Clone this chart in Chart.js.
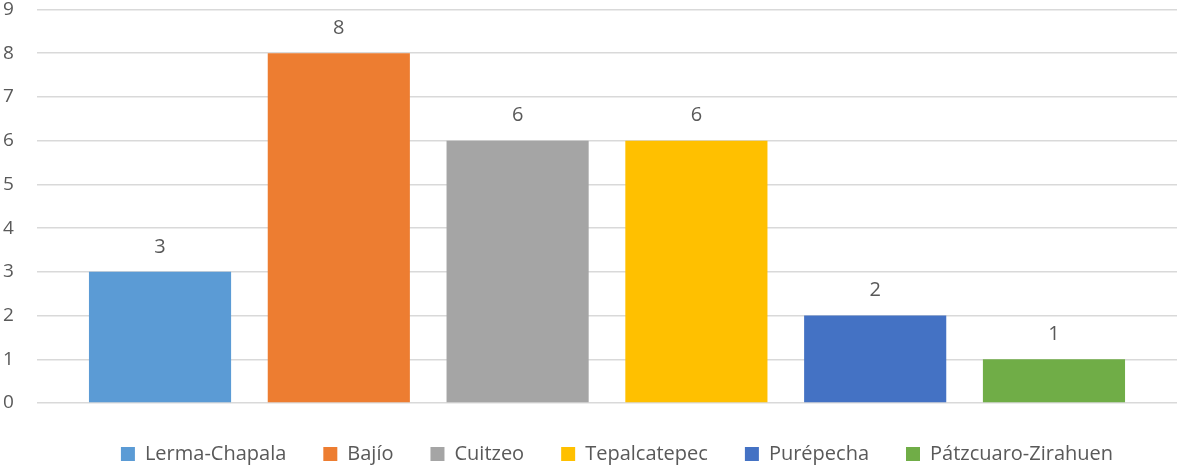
<!DOCTYPE html>
<html>
<head>
<meta charset="utf-8">
<script src="https://cdn.jsdelivr.net/npm/chart.js@4.4.0/dist/chart.umd.min.js"></script>
<style>
  html, body { margin: 0; padding: 0; background: #fff; }
  #wrap { width: 1180px; height: 467px; }
</style>
</head>
<body>
<div id="wrap"><canvas id="chart"></canvas></div>
<script>
// data
const regions = ["Lerma-Chapala", "Bajío", "Cuitzeo", "Tepalcatepec", "Purépecha", "Pátzcuaro-Zirahuen"];
const counts = [3, 8, 6, 6, 2, 1];
const colors = ["#5B9BD5", "#ED7D31", "#A5A5A5", "#FFC000", "#4472C4", "#70AD47"];
const yTicks = [0, 1, 2, 3, 4, 5, 6, 7, 8, 9];

const FONT = "'Open Sans', sans-serif";
const TEXT = "#595959";

// draws the value above each bar
const valueLabels = {
    id: "valueLabels",
    afterDatasetsDraw(chart) {
        const ctx = chart.ctx;
        ctx.save();
        ctx.font = "20px " + FONT;
        ctx.fillStyle = TEXT;
        ctx.textAlign = "center";
        ctx.textBaseline = "middle";
        chart.data.datasets.forEach((ds, i) => {
            const meta = chart.getDatasetMeta(i);
            meta.data.forEach((bar, j) => {
                ctx.fillText(String(ds.data[j]), bar.x, bar.y - 25);
            });
        });
        ctx.restore();
    },
};

// nudge the legend row into the original's place
const legendShift = {
    id: "legendShift",
    afterLayout(chart) {
        const lg = chart.legend;
        lg.left += 27;
        lg.right += 27;
        lg.top -= 11;
        lg.bottom -= 11;
    },
};

new Chart(document.getElementById("chart"), {
    type: "bar",
    data: {
        labels: [""],
        datasets: regions.map((name, i) => ({
            label: name,
            data: [counts[i]],
            backgroundColor: colors[i],
            borderWidth: 0,
            barPercentage: 0.795,
            categoryPercentage: 0.941,
        })),
    },
    options: {
        responsive: true,
        maintainAspectRatio: false,
        animation: false,
        layout: { padding: { left: 3, right: 3, top: 9, bottom: -18 } },
        plugins: {
            legend: {
                position: "bottom",
                labels: {
                    color: TEXT,
                    font: { family: FONT, size: 20 },
                    boxWidth: 14,
                    boxHeight: 14,
                    padding: 37,
                },
            },
            tooltip: { enabled: false },
        },
        scales: {
            x: {
                grid: { display: false },
                border: { display: false },
                ticks: { display: false },
                afterFit: axis => { axis.height = 15; },
            },
            y: {
                min: 0,
                max: 9,
                afterBuildTicks: axis => { axis.ticks = yTicks.map(v => ({ value: v })); },
                afterFit: axis => { axis.width = 34; },
                grid: { color: "#D9D9D9", lineWidth: 1.5, drawTicks: false },
                border: { display: false },
                ticks: {
                    color: TEXT,
                    font: { family: FONT, size: 19, lineHeight: 1 },
                    padding: 0,
                    crossAlign: "far",
                },
            },
        },
    },
    plugins: [valueLabels, legendShift],
});
</script>
</body>
</html>
